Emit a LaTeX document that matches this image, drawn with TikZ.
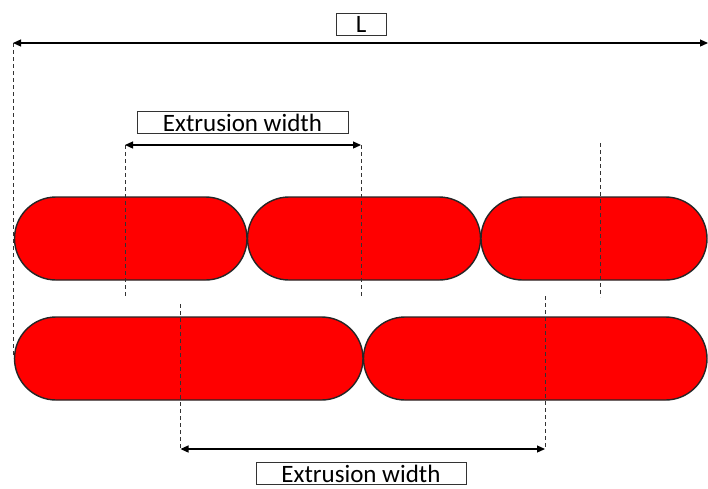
\documentclass[tikz,border=0pt]{standalone}
\usepackage{fontspec}
\setmainfont{Carlito}
\usetikzlibrary{arrows.meta}
\tikzset{
  capsule/.style={draw=black!85, line width=1.4pt, fill=red, rounded corners=41.5pt},
  guide/.style={draw=black!80, line width=0.8pt, dash pattern=on 4pt off 3pt},
  dim/.style={draw=black, line width=1.2pt, {Triangle[length=8pt,width=7pt]}-{Triangle[length=8pt,width=7pt]}},
  lbl/.style={draw=black!80, line width=1pt, inner sep=0pt, font=\fontsize{25}{25}\selectfont, minimum height=22pt}
}
\begin{document}
\begin{tikzpicture}[x=1pt,y=-1pt]
\useasboundingbox (0,0) rectangle (708,488);
% capsules
\path[capsule] (14.5,197) rectangle (247,280);
\path[capsule] (247.5,197) rectangle (480.5,280);
\path[capsule] (481,197) rectangle (707,280);
\path[capsule] (14.5,317) rectangle (363,400);
\path[capsule] (363.5,317) rectangle (707,400);
% coordinates
\coordinate (La) at (13,43);
\coordinate (Lb) at (708,43);
\coordinate (La0) at (13,358);
\coordinate (Ta) at (125,145);
\coordinate (Tb) at (361,145);
\coordinate (Ta0) at (125,297);
\coordinate (Tb0) at (361,297);
\coordinate (Tc) at (600,143);
\coordinate (Tc0) at (600,297);
\coordinate (Ba) at (180.5,449);
\coordinate (Bb) at (545,449);
\coordinate (Ba0) at (180.5,304);
\coordinate (Bb0) at (545,296);
% guides
\draw[guide] (La) -- (La0);
\draw[guide] (Ta) -- (Ta0);
\draw[guide] (Tb) -- (Tb0);
\draw[guide] (Tc) -- (Tc0);
\draw[guide] (Ba0) -- (Ba);
\draw[guide] (Bb0) -- (Bb);
% dimension arrows
\draw[dim] (La) -- (Lb);
\draw[dim] (Ta) -- (Tb);
\draw[dim] (Ba) -- (Bb);
% labels
\node[lbl, minimum width=50pt] (L) at (361,24) {L};
\node[lbl, minimum width=211pt] (ew1) at (242.5,122.5) {Extrusion width};
\node[lbl, minimum width=210pt] (ew2) at (361,473.5) {Extrusion width};
\end{tikzpicture}
\end{document}
